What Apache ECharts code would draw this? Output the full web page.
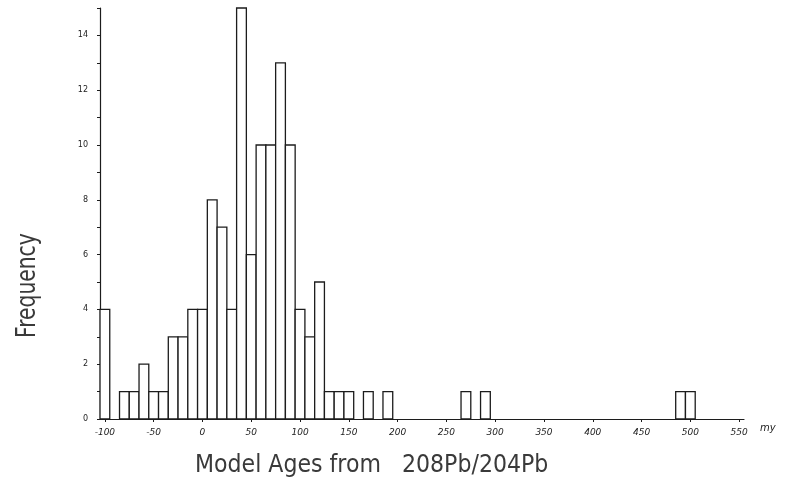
<!DOCTYPE html>
<html>
<head>
<meta charset="utf-8">
<script src="https://cdn.jsdelivr.net/npm/echarts@6/dist/echarts.min.js"></script>
<style>html,body{margin:0;padding:0;background:#fff}#c{width:797px;height:489px}</style>
</head>
<body>
<div id="c"></div>
<script>
// Bin centres (my), bin width 10
var binCenters = [-100,-80,-70,-60,-50,-40,-30,-20,-10,0,10,20,30,40,50,60,70,80,90,100,110,120,130,140,150,170,190,270,290,490,500];
var counts     = [4,1,1,2,1,1,3,3,4,4,8,7,4,15,6,10,10,13,10,4,3,5,1,1,1,1,1,1,1,1,1];
var binWidth = 10;
var xTickLabels = [-100,-50,0,50,100,150,200,250,300,350,400,450,500,550];
var yTickLabels = [0,2,4,6,8,10,12,14];
var yMinorTicks = [0,1,2,3,4,5,6,7,8,9,10,11,12,13,14,15];

var data = binCenters.map(function(c,i){return [c, counts[i]];});
var ink = '#1c1c1c';

var chart = echarts.init(document.getElementById('c'), null, {renderer:'canvas'});
chart.setOption({
  animation:false,
  backgroundColor:'#fff',
  grid:{left:100, right:53, top:8, bottom:70},
  xAxis:{
    type:'value', min:-105, max:555,
    name:'my', nameLocation:'end', nameGap:16,
    nameTextStyle:{color:ink, fontSize:10, fontStyle:'italic', verticalAlign:'top', padding:[4,0,0,0], fontFamily:'DejaVu Sans'},
    axisLine:{show:true, onZero:false, lineStyle:{color:ink, width:1.2}},
    axisTick:{show:true, inside:false, length:3, customValues:xTickLabels, lineStyle:{color:ink}},
    axisLabel:{customValues:xTickLabels, color:ink, fontSize:9, fontStyle:'italic', margin:9, fontFamily:'DejaVu Sans'},
    splitLine:{show:false}
  },
  yAxis:{
    type:'value', min:0, max:15,
    axisLine:{show:true, onZero:false, lineStyle:{color:ink, width:1.2}},
    axisTick:{show:true, length:3, customValues:yMinorTicks, lineStyle:{color:ink}},
    axisLabel:{customValues:yTickLabels, color:ink, fontSize:8, margin:12, fontFamily:'DejaVu Sans'},
    splitLine:{show:false}
  },
  graphic:[
    {type:'text', x:195, y:454, scaleX:0.92, style:{text:'Model Ages from   208Pb/204Pb', fill:'#3a3a3a', font:'24px "DejaVu Sans"', textVerticalAlign:'top'}},
    {type:'text', rotation:Math.PI/2, x:15, y:338, scaleX:0.78, style:{text:'Frequency', fill:'#3a3a3a', font:'26px "DejaVu Sans"', textVerticalAlign:'top'}}
  ],
  series:[{
    type:'custom',
    data:data,
    renderItem:function(params, api){
      var c = api.value(0), v = api.value(1);
      var p0 = api.coord([c - binWidth/2, 0]);
      var p1 = api.coord([c + binWidth/2, v]);
      return {
        type:'rect',
        shape:{x:p0[0], y:p1[1], width:p1[0]-p0[0], height:p0[1]-p1[1]},
        style:{fill:'#fff', stroke:ink, lineWidth:1.3}
      };
    }
  }]
});
</script>
</body>
</html>
